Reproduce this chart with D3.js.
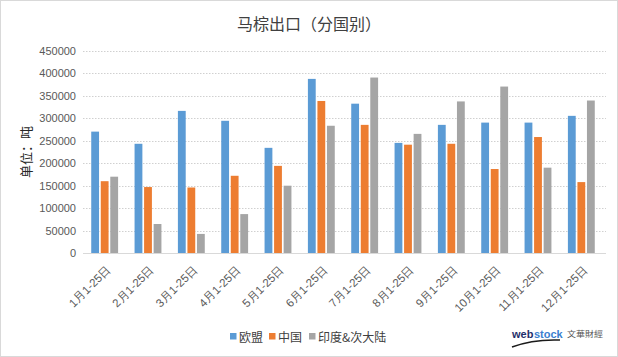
<!DOCTYPE html>
<html><head><meta charset="utf-8">
<script src="https://cdn.jsdelivr.net/npm/d3@7"></script>
<style>
html,body{margin:0;padding:0;background:#fff;}
svg{display:block;font-family:"Noto Sans CJK SC","Microsoft YaHei",sans-serif;}
</style></head>
<body>
<svg id="c" width="618" height="357"></svg>
<script>
const categories = ["1月1-25日","2月1-25日","3月1-25日","4月1-25日","5月1-25日","6月1-25日","7月1-25日","8月1-25日","9月1-25日","10月1-25日","11月1-25日","12月1-25日"];
const seriesNames = ["欧盟","中国","印度&次大陆"];
const euValues = [270000,243000,316000,294000,234000,387000,332000,245000,285000,290000,290000,305000];
const cnValues = [160000,147000,146000,172000,194000,338000,285000,241000,243000,187000,258000,158000];
const inValues = [170000,65000,43000,87000,150000,283000,390000,265000,337000,370000,190000,339000];
const yTicks = [0,50000,100000,150000,200000,250000,300000,350000,400000,450000];
const colors = ["#5B9BD5","#ED7D31","#A5A5A5"];
const title = "马棕出口（分国别）";
const yTitle = "单位：吨";

const svg = d3.select("#c");
const W = 618, H = 357;
const pLeft = 83, pRight = 603, pTop = 50.5, pBottom = 253.3;

svg.append("rect").attr("x",0.5).attr("y",0.5).attr("width",W-1).attr("height",H-1)
  .attr("fill","#fff").attr("stroke","#d9d9d9");

const x0 = d3.scaleBand().domain(categories).range([pLeft,pRight]).paddingInner(0.38).paddingOuter(0.19);
const x1 = d3.scaleBand().domain(seriesNames).range([0,x0.bandwidth()]).paddingInner(0.18);
const y = d3.scaleLinear().domain([0,450000]).range([pBottom,pTop]);

const yAxis = d3.axisLeft(y).tickValues(yTicks).tickSize(0).tickPadding(6).tickFormat(d3.format("d"));
const gy = svg.append("g").attr("transform",`translate(${pLeft-1},0)`).call(yAxis);
gy.select(".domain").remove();
gy.selectAll("text").attr("fill","#595959").style("font-size","11px").attr("x",-6);

const grid = svg.append("g");
grid.selectAll("line").data(yTicks.filter(d=>d>0)).join("line")
  .attr("x1",pLeft).attr("x2",606).attr("y1",d=>Math.round(y(d))+0.5).attr("y2",d=>Math.round(y(d))+0.5)
  .attr("stroke","#d0d0d0").attr("stroke-width",1).attr("stroke-dasharray","1.5,1.5");

const data = categories.map((c,i)=>({cat:c, vals:[euValues[i],cnValues[i],inValues[i]]}));
const groups = svg.append("g").selectAll("g").data(data).join("g")
  .attr("transform",d=>`translate(${x0(d.cat)},0)`);
groups.selectAll("rect").data(d=>d.vals.map((v,j)=>({name:seriesNames[j],v,j}))).join("rect")
  .attr("x",d=>x1(d.name)).attr("width",x1.bandwidth())
  .attr("y",d=>y(d.v)).attr("height",d=>pBottom-y(d.v))
  .attr("fill",d=>colors[d.j]);

svg.append("line").attr("x1",pLeft).attr("x2",606).attr("y1",Math.round(pBottom)+0.5).attr("y2",Math.round(pBottom)+0.5)
  .attr("stroke","#d9d9d9");

const xAxis = d3.axisBottom(x0).tickSize(0).tickPadding(0);
const gx = svg.append("g").attr("transform",`translate(0,${pBottom})`).call(xAxis);
gx.select(".domain").remove();
gx.selectAll("text").attr("fill","#595959").style("font-size","11.5px")
  .attr("text-anchor","end").attr("dy",null).attr("y",null)
  .attr("dominant-baseline","central")
  .attr("transform","translate(4,14) rotate(-45)");

svg.append("text").attr("x",309).attr("y",23).attr("text-anchor","middle").attr("dominant-baseline","central")
  .style("font-size","16px").attr("fill","#404040").text(title);

svg.append("text").attr("transform","translate(25,152) rotate(-90)").attr("text-anchor","middle")
  .attr("dominant-baseline","central").style("font-size","13px").attr("fill","#262626").text(yTitle);

const legendX = [230,269,309];
const lg = svg.append("g");
seriesNames.forEach((n,i)=>{
  lg.append("rect").attr("x",legendX[i]).attr("y",333).attr("width",6.5).attr("height",6.5).attr("fill",colors[i]);
  lg.append("text").attr("x",legendX[i]+9).attr("y",336.5).attr("dominant-baseline","central")
    .style("font-size","12px").attr("fill","#404040").text(n);
});

const logo = svg.append("g");
logo.append("text").attr("x",512).attr("y",338).style("font-family","Arial, Liberation Sans, sans-serif")
  .style("font-size","11px").style("font-weight","bold").attr("fill","#1f2f6b").text("web");
logo.append("text").attr("x",534).attr("y",338).style("font-family","Arial, Liberation Sans, sans-serif")
  .style("font-size","11px").style("font-weight","bold").attr("fill","#3a7fd0").text("stock");
logo.append("path").attr("d","M512,347 Q533,339 560,340").attr("fill","none").attr("stroke","#1a1a1a").attr("stroke-width",1.5);
logo.append("text").attr("x",567).attr("y",337).style("font-size","8px").attr("fill","#555")
  .attr("textLength",36).attr("lengthAdjust","spacingAndGlyphs").text("文華財經");
</script>
</body></html>
